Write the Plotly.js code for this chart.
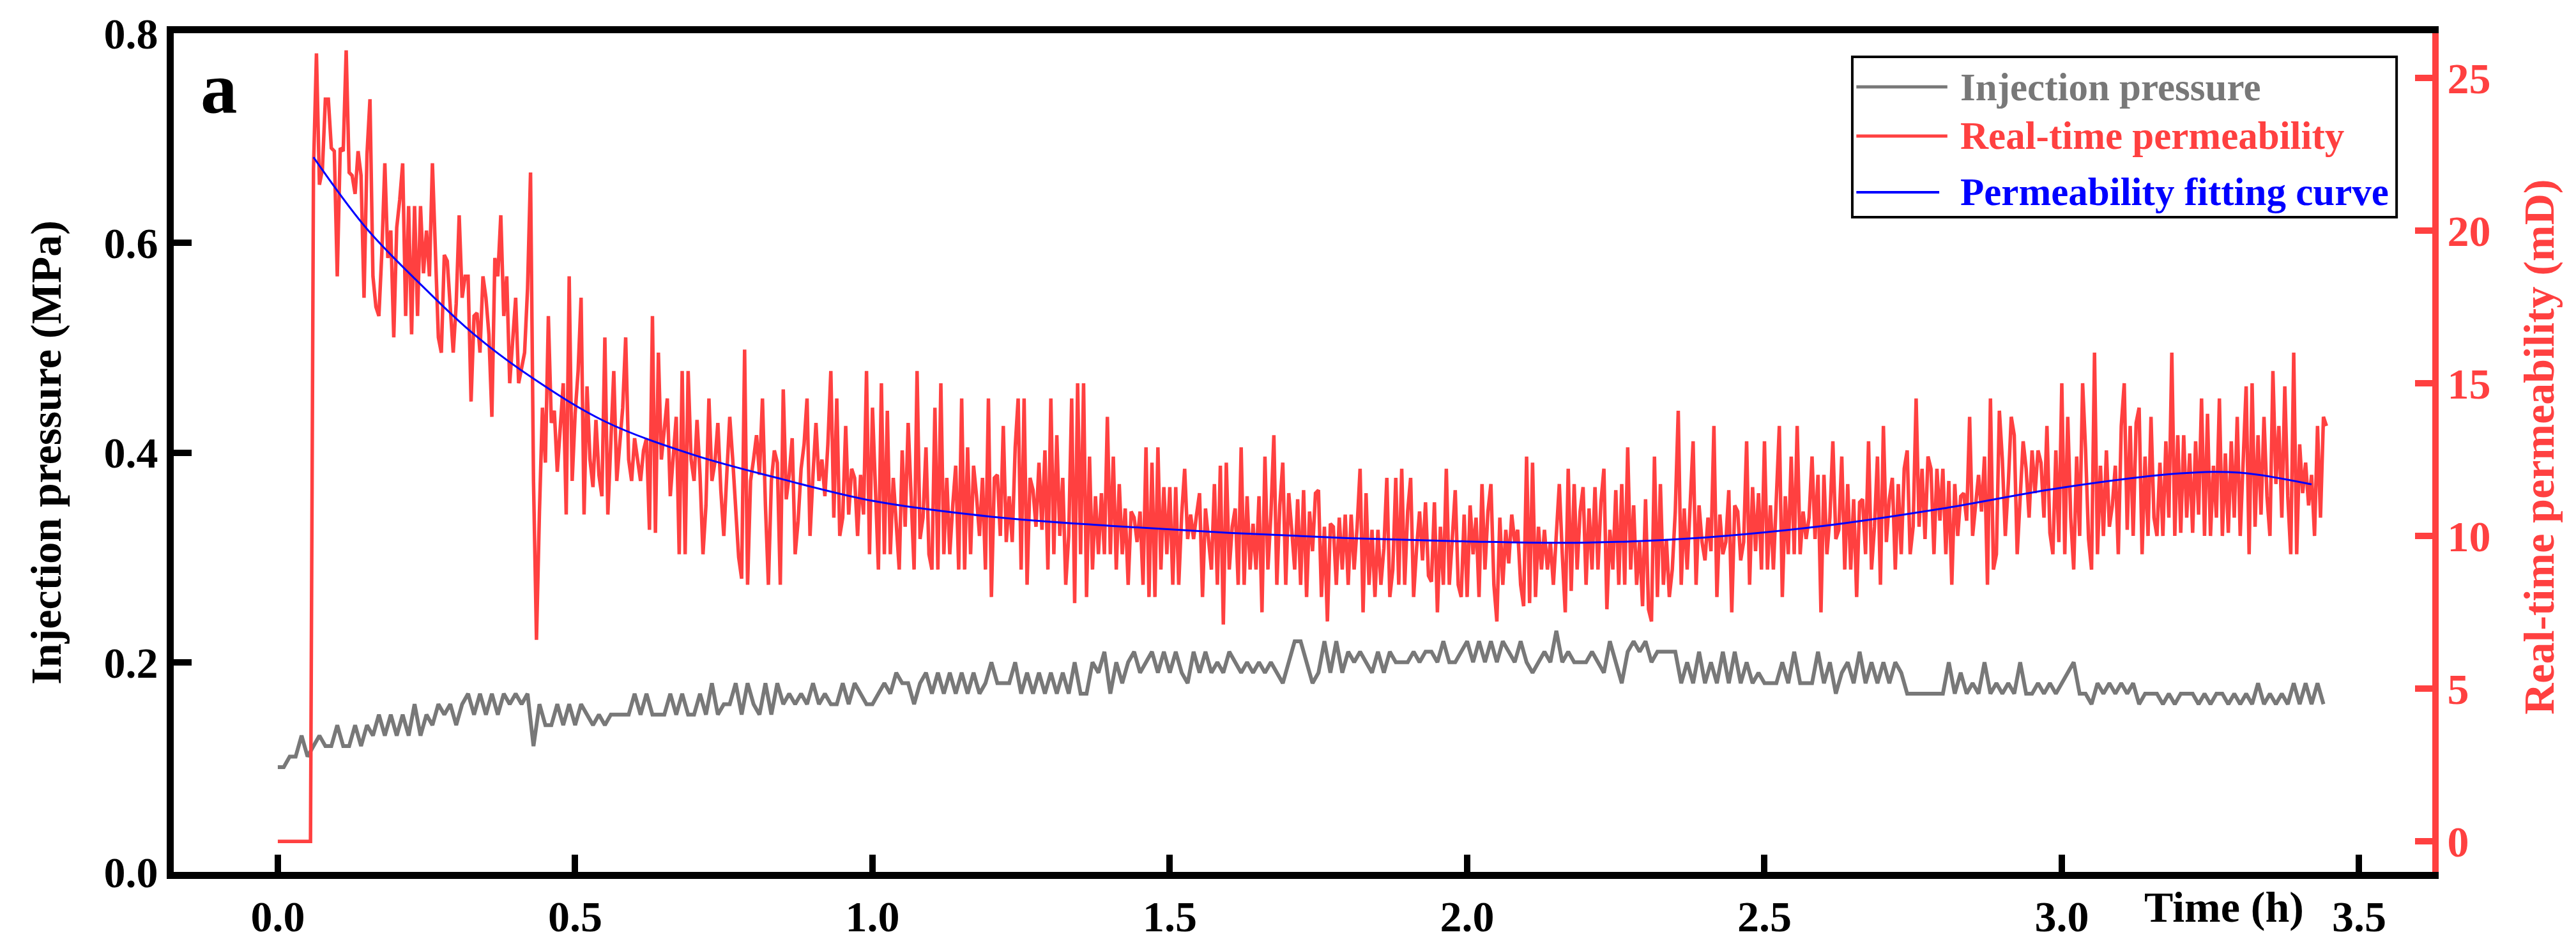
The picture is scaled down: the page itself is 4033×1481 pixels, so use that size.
<!DOCTYPE html>
<html>
<head>
<meta charset="utf-8">
<script src="https://cdn.plot.ly/plotly-3.0.1.min.js"></script>
<style>
  body { margin: 0; background: #fff; }
  #graph { width: 4033px; height: 1481px; }
</style>
</head>
<body>
<div id="graph"></div>
<script>
// time step of the logger (h)
var permStep = 0.005;
var pressStep = 0.01;

// real-time permeability (mD), sampled every 0.005 h from t = 0
var permLead = [0, 0, 0, 0, 0, 0, 0, 0, 0, 0, 0, 0];
var permA = [
    22.0, 25.8, 21.5, 22.0, 24.3, 24.3, 22.7, 22.6, 18.5, 22.7,
    22.6, 25.9, 21.9, 21.8, 21.2, 22.6, 21.8, 17.8, 22.5, 24.3,
    18.5, 17.5, 17.2, 19.3, 22.2, 19.1, 20.0, 16.5, 20.1, 21.0,
    22.2, 17.2, 20.8, 16.6, 20.8, 17.2, 20.8, 18.6, 20.0, 18.5,
    22.2, 19.2, 16.5, 16.0, 19.2, 19.0, 17.6, 16.0, 17.6, 20.5,
    17.8, 18.5, 18.5, 14.4, 17.2, 17.3, 16.0, 18.5, 17.8, 16.6,
    13.9, 19.1, 18.5, 20.5, 17.2, 18.5, 15.0, 16.5, 17.8, 15.0,
    15.5, 16.0, 18.1, 21.9, 11.8, 6.6, 10.8, 14.2, 12.4, 17.2,
    13.7, 14.1, 12.1, 13.5, 15.0, 10.7, 18.5, 11.8, 14.0, 15.4,
    17.8, 10.7, 14.9, 12.5, 11.6, 13.8, 12.0, 11.3, 16.5, 10.7,
    13.0, 15.4, 11.8, 13.0, 14.2, 16.5, 12.5, 11.8, 13.2, 12.5,
    11.8, 12.8, 13.2, 10.2, 17.2, 10.1, 16.0, 12.5, 13.5, 14.5,
    11.3, 12.6, 13.9, 9.4, 15.4, 9.4, 15.4, 12.5, 11.8, 13.8,
    12.0, 9.4, 11.0, 14.5, 11.8, 12.4, 13.7, 11.5, 10.0, 12.0,
    13.9, 12.5, 11.0, 9.3, 8.6, 16.1, 8.4, 11.8, 12.5, 13.3,
    12.0, 14.5, 11.0, 8.4, 11.8, 12.8, 12.4, 8.4, 14.8, 11.2,
    12.0, 13.2, 9.4, 10.5, 12.2, 13.0, 14.5, 10.0, 12.0, 13.7,
    11.8, 12.5, 11.3, 13.0
];
var permB = [
    15.4, 10.6, 14.5, 10.0, 10.6, 13.6, 10.7, 12.2, 11.9, 10.0,
    12.0, 10.7, 15.4, 9.4, 14.2, 11.6, 8.9, 15.0, 9.4, 14.1,
    9.4, 11.9, 10.3, 8.9, 12.8, 10.3, 13.7, 11.5, 8.9, 15.4,
    9.9, 10.6, 12.9, 9.4, 8.9, 14.2, 8.9, 15.0, 9.4, 11.9,
    9.4, 11.0, 12.3, 8.9, 14.5, 8.9, 12.9, 9.4, 12.3, 11.3,
    10.0, 11.9, 8.9, 14.5, 8.0, 11.9, 12.0, 10.0, 13.6, 9.8,
    11.3, 9.8, 12.9, 14.5, 8.9, 14.5, 8.4, 11.9, 11.5, 10.3,
    12.4, 10.2, 12.8, 8.9, 14.5, 9.4, 13.3, 10.0, 11.9, 8.4,
    10.0, 14.5, 7.8, 15.0, 9.4, 15.0, 8.0, 12.6, 8.9, 11.3,
    9.4, 11.4, 9.4, 13.9, 9.4, 12.6, 8.9, 11.7, 9.4, 10.9,
    8.4, 10.8, 10.6, 9.8, 10.8, 8.4, 12.9, 8.0, 12.4, 8.0,
    12.9, 8.9, 11.6, 9.4, 11.6, 8.4, 11.6, 8.4, 10.7, 12.2,
    9.9, 10.7, 9.9, 10.7, 11.4, 8.0, 10.9, 9.9, 8.9, 11.7,
    8.4, 12.3, 7.1, 12.4, 8.9, 10.3, 10.9, 8.4, 12.9, 8.4,
    11.3, 8.9, 10.4, 8.9, 11.3, 7.5, 12.6, 8.9, 10.7, 13.3,
    8.4, 11.0, 12.4, 8.4, 11.4, 10.2, 8.9, 11.2, 8.4, 11.5,
    8.0, 10.8, 9.5, 11.4, 11.5, 8.0, 10.3, 7.2, 10.4, 10.3,
    8.4, 10.6, 8.9, 10.7, 8.4, 10.7, 8.9, 10.3, 12.2, 7.5,
    11.4, 8.4, 10.2, 8.0, 10.2, 8.4, 9.6, 11.9, 8.0, 8.9,
    11.9, 8.4, 12.2, 8.4
];
var permC = [
    10.8, 11.9, 8.0, 9.6, 10.8, 9.2, 11.1, 8.7, 8.5, 11.1,
    7.5, 10.3, 8.4, 12.2, 8.4, 9.9, 11.5, 8.4, 8.0, 10.7,
    8.0, 11.0, 9.4, 10.6, 8.0, 11.7, 8.9, 10.8, 11.7, 8.4,
    7.2, 10.6, 8.4, 10.2, 9.1, 10.7, 9.8, 10.2, 8.4, 7.7,
    12.6, 7.8, 12.4, 8.0, 10.3, 8.9, 10.2, 8.9, 9.8, 8.4,
    10.1, 11.7, 9.4, 7.5, 12.2, 8.2, 11.7, 8.9, 10.8, 11.6,
    8.4, 10.9, 8.9, 11.6, 8.9, 11.1, 12.2, 7.6, 10.2, 8.9,
    11.5, 8.4, 11.7, 8.4, 12.9, 8.9, 11.0, 8.4, 9.8, 7.7,
    11.2, 7.6, 7.2, 12.6, 8.0, 11.7, 8.4, 9.9, 8.0, 8.9,
    10.8, 14.1, 8.4, 10.9, 8.9, 10.9, 13.1, 8.4, 11.0, 9.8,
    9.2, 10.6, 9.5, 13.6, 8.0, 10.7, 9.4, 9.8, 11.5, 7.5,
    11.0, 10.8, 9.2, 9.8, 13.1, 8.4, 11.6, 9.5, 11.4, 8.9,
    13.1, 8.9, 11.0, 8.9, 11.2, 13.6, 8.0, 11.3, 9.4, 12.6,
    9.4, 13.6, 9.4, 10.8, 9.9, 10.6, 12.6, 9.9, 12.0, 7.5,
    12.0, 9.4, 10.6, 13.1, 9.9, 10.2, 12.6, 8.9, 11.7, 8.9,
    11.2, 8.0, 11.1, 11.2, 9.4, 13.1, 8.9, 10.3, 12.6, 8.4,
    13.6, 9.8, 11.2, 11.9, 8.9, 11.7, 9.4, 12.2, 12.8, 9.4,
    10.3, 14.5, 10.3, 12.2, 9.9, 12.6, 12.2, 9.4, 12.2, 10.5,
    12.2, 9.4, 11.8
];
var permD = [
    8.4, 11.7, 10.0, 11.3, 11.4, 10.5, 13.9, 10.0, 11.0, 12.0,
    10.8, 12.6, 8.4, 14.5, 8.9, 9.4, 14.1, 12.5, 10.0, 11.7,
    13.9, 13.3, 9.4, 11.2, 13.1, 12.2, 10.6, 12.8, 11.4, 12.8,
    12.4, 10.6, 13.6, 10.1, 9.4, 12.8, 9.8, 15.0, 9.4, 13.9,
    10.6, 8.9, 12.6, 10.0, 15.0, 12.8, 9.9, 8.9, 16.0, 9.4,
    12.3, 10.0, 12.8, 10.3, 11.0, 12.3, 9.4, 13.6, 15.0, 10.2,
    13.6, 10.0, 13.7, 14.2, 9.4, 12.6, 10.0, 13.9, 10.6, 10.0,
    12.4, 10.0, 13.1, 10.6, 16.0, 10.0, 13.3, 10.1, 13.3, 10.6,
    12.7, 10.1, 13.1, 10.7, 14.5, 10.0, 14.0, 10.0, 12.3, 10.6,
    14.5, 10.0, 12.7, 10.1, 13.1, 10.6, 13.9, 10.0, 12.7, 14.9,
    9.4, 15.0, 10.3, 13.3, 10.7, 13.9, 11.3, 10.0, 15.4, 11.7,
    13.6, 10.6, 14.9, 11.3, 9.4, 16.0, 9.4, 13.0, 11.4, 12.4,
    11.0, 12.0, 10.0, 13.6, 10.6, 13.9, 13.6
];

// injection pressure (MPa), sampled every 0.01 h from t = 0
var pressA = [
    0.10, 0.10, 0.11, 0.11, 0.13, 0.11, 0.12, 0.13, 0.12, 0.12,
    0.14, 0.12, 0.12, 0.14, 0.12, 0.14, 0.13, 0.15, 0.13, 0.15,
    0.13, 0.15, 0.13, 0.16, 0.13, 0.15, 0.14, 0.16, 0.15, 0.16,
    0.14, 0.16, 0.17, 0.15, 0.17, 0.15, 0.17, 0.15, 0.17, 0.16,
    0.17, 0.16, 0.17, 0.12, 0.16, 0.14, 0.14, 0.16, 0.14, 0.16,
    0.14, 0.16, 0.15, 0.14, 0.15, 0.14, 0.15, 0.15, 0.15, 0.15,
    0.17, 0.15, 0.17, 0.15, 0.15, 0.15, 0.17, 0.15, 0.17, 0.15,
    0.15, 0.17, 0.15, 0.18, 0.15, 0.16, 0.16, 0.18, 0.15, 0.18,
    0.16, 0.15, 0.18, 0.15, 0.18, 0.16, 0.17, 0.16, 0.17, 0.16,
    0.18, 0.16, 0.17, 0.16, 0.16, 0.18, 0.16, 0.18, 0.17, 0.16,
    0.16, 0.17, 0.18, 0.17, 0.19, 0.18, 0.18, 0.16, 0.18, 0.19,
    0.17, 0.19, 0.17, 0.19, 0.17, 0.19, 0.17, 0.19, 0.17, 0.18,
    0.20, 0.18, 0.18, 0.18, 0.20, 0.17, 0.19, 0.17, 0.19, 0.17,
    0.19, 0.17, 0.19, 0.17, 0.20, 0.17, 0.17, 0.20, 0.19, 0.21,
    0.17, 0.20, 0.18, 0.20, 0.21, 0.19, 0.20, 0.21, 0.19, 0.21,
    0.19, 0.21, 0.19, 0.18, 0.21, 0.19, 0.21, 0.19, 0.20, 0.19,
    0.21, 0.20, 0.19, 0.20, 0.19, 0.20, 0.19, 0.20, 0.19, 0.18
];
var pressB = [
    0.20, 0.22, 0.22, 0.20, 0.18, 0.19, 0.22, 0.19, 0.22, 0.19,
    0.21, 0.20, 0.21, 0.20, 0.19, 0.21, 0.19, 0.21, 0.20, 0.20,
    0.20, 0.21, 0.20, 0.21, 0.21, 0.20, 0.22, 0.20, 0.20, 0.21,
    0.22, 0.20, 0.22, 0.20, 0.22, 0.20, 0.22, 0.21, 0.20, 0.22,
    0.20, 0.19, 0.20, 0.21, 0.20, 0.23, 0.20, 0.21, 0.20, 0.20,
    0.20, 0.21, 0.20, 0.19, 0.22, 0.20, 0.18, 0.21, 0.22, 0.21,
    0.22, 0.20, 0.21, 0.21, 0.21, 0.21, 0.18, 0.20, 0.18, 0.21,
    0.18, 0.20, 0.18, 0.21, 0.18, 0.21, 0.18, 0.20, 0.18, 0.19,
    0.18, 0.18, 0.18, 0.20, 0.18, 0.21, 0.18, 0.18, 0.18, 0.21,
    0.18, 0.20, 0.17, 0.19, 0.20, 0.18, 0.21, 0.18, 0.20, 0.18,
    0.20, 0.18, 0.20, 0.19, 0.17, 0.17, 0.17, 0.17, 0.17, 0.17,
    0.17, 0.20, 0.17, 0.19, 0.17, 0.18, 0.17, 0.20, 0.17, 0.18,
    0.17, 0.18, 0.17, 0.20, 0.17, 0.17, 0.18, 0.17, 0.18, 0.17,
    0.18, 0.19, 0.20, 0.17, 0.17, 0.16, 0.18, 0.17, 0.18, 0.17,
    0.18, 0.17, 0.18, 0.16, 0.17, 0.17, 0.17, 0.16, 0.17, 0.16,
    0.17, 0.17, 0.17, 0.16, 0.17, 0.16, 0.17, 0.17, 0.16, 0.17,
    0.16, 0.17, 0.16, 0.18, 0.16, 0.17, 0.16, 0.17, 0.16, 0.18,
    0.16, 0.18, 0.16, 0.18, 0.16
];

// permeability fitting curve (mD)
var fitT = [0.06, 0.15, 0.25, 0.33, 0.43, 0.55, 0.70, 0.85, 1.00, 1.20,
            1.40, 1.60, 1.80, 2.00, 2.20, 2.40, 2.60, 2.80, 3.00, 3.20,
            3.30, 3.42];
var fitK = [22.4, 20.05, 18.05, 16.6, 15.15, 13.75, 12.65, 11.85, 11.15, 10.63,
            10.33, 10.1, 9.93, 9.82, 9.78, 9.95, 10.33, 10.9, 11.58, 12.05,
            12.07, 11.69];

var xTicks = [0, 0.5, 1, 1.5, 2, 2.5, 3, 3.5];
var yTicks = [0, 0.2, 0.4, 0.6, 0.8];
var y2Ticks = [0, 5, 10, 15, 20, 25];

var legendNames = ['Injection pressure', 'Real-time permeability', 'Permeability fitting curve'];

var GRAY = 'rgb(120,120,120)';
var RED = 'rgb(255,64,64)';
var BLUE = 'rgb(0,0,255)';
var FONT = 'Liberation Serif, Times New Roman, serif';

function graphplot() {
    var allLines = [];

    allLines.push({
        y: pressA.concat(pressB),
        x0: 0,
        dx: pressStep,
        mode: 'lines',
        line: {color: GRAY, width: 6},
        name: legendNames[0],
        yaxis: 'y',
        hoverinfo: 'skip'
    });

    allLines.push({
        y: permLead.concat(permA, permB, permC, permD),
        x0: 0,
        dx: permStep,
        mode: 'lines',
        line: {color: RED, width: 5.5},
        name: legendNames[1],
        yaxis: 'y2',
        hoverinfo: 'skip'
    });

    allLines.push({
        x: fitT,
        y: fitK,
        mode: 'lines',
        line: {color: BLUE, width: 3, shape: 'spline', smoothing: 1},
        name: legendNames[2],
        yaxis: 'y2',
        hoverinfo: 'skip'
    });

    // hand made legend, the swatches are long
    var lx0 = 0.7432, lx1 = 0.9842, ly0 = 0.7807, ly1 = 0.9718;
    var rowY = [0.9360, 0.8774, 0.8104];
    var rowColor = [GRAY, RED, BLUE];
    var rowEnd = [0.7853, 0.7853, 0.7817];

    var shapes = [{
        type: 'rect', xref: 'paper', yref: 'paper',
        x0: lx0, x1: lx1, y0: ly0, y1: ly1,
        line: {color: 'black', width: 4}, fillcolor: 'white', layer: 'above'
    }];
    var notes = [];
    for (i = 0; i < 3; i++) {
        shapes.push({
            type: 'line', xref: 'paper', yref: 'paper',
            x0: 0.7450, x1: rowEnd[i], y0: rowY[i], y1: rowY[i],
            line: {color: rowColor[i], width: i == 2 ? 4 : 5}, layer: 'above'
        });
        notes.push({
            xref: 'paper', yref: 'paper', x: 0.7904, y: rowY[i],
            xanchor: 'left', yanchor: 'middle', showarrow: false,
            text: legendNames[i],
            font: {family: FONT, size: 61, color: rowColor[i], weight: 'bold'}
        });
    }

    notes.push({
        xref: 'paper', yref: 'paper', x: 0.0201, y: 0.935,
        xanchor: 'center', yanchor: 'middle', showarrow: false,
        text: 'a', font: {family: FONT, size: 115, color: 'black', weight: 'bold'}
    });
    notes.push({
        xref: 'paper', yref: 'paper', x: 0.9079, y: -0.0418,
        xanchor: 'center', yanchor: 'middle', showarrow: false,
        text: 'Time (h)', font: {family: FONT, size: 68, color: 'black', weight: 'bold'}
    });
    notes.push({
        xref: 'paper', yref: 'paper', x: -0.0568, y: 0.5,
        xanchor: 'center', yanchor: 'middle', showarrow: false, textangle: -90,
        text: 'Injection pressure (MPa)', font: {family: FONT, size: 68, color: 'black', weight: 'bold'}
    });
    notes.push({
        xref: 'paper', yref: 'paper', x: 1.0472, y: 0.5065,
        xanchor: 'center', yanchor: 'middle', showarrow: false, textangle: -90,
        text: 'Real-time permeability (mD)', font: {family: FONT, size: 68, color: RED, weight: 'bold'}
    });

    var tickFont = {family: FONT, size: 68, color: 'black', weight: 'bold'};

    var frame = {
        width: 4033,
        height: 1481,
        margin: {l: 272, r: 225, t: 52, b: 116},
        paper_bgcolor: 'white',
        plot_bgcolor: 'white',
        showlegend: false,
        xaxis: {
            range: [-0.175, 3.623],
            tickvals: xTicks,
            tickformat: '.1f',
            ticks: 'inside', ticklen: 27, tickwidth: 10, tickcolor: 'black',
            showline: true, linewidth: 11, linecolor: 'black', mirror: true,
            showgrid: false, zeroline: false,
            tickfont: tickFont
        },
        yaxis: {
            range: [0, 0.8],
            tickvals: yTicks,
            tickformat: '.1f',
            ticks: 'inside', ticklen: 28, tickwidth: 10, tickcolor: 'black',
            showline: true, linewidth: 11, linecolor: 'black',
            showgrid: false, zeroline: false,
            tickfont: tickFont
        },
        yaxis2: {
            overlaying: 'y',
            side: 'right',
            range: [-1.0, 26.46],
            tickvals: y2Ticks,
            ticks: 'inside', ticklen: 27, tickwidth: 10, tickcolor: RED,
            showline: true, linewidth: 10, linecolor: RED,
            showgrid: false, zeroline: false,
            tickfont: {family: FONT, size: 68, color: RED, weight: 'bold'}
        },
        shapes: shapes,
        annotations: notes
    };

    Plotly.newPlot('graph', allLines, frame, {displayModeBar: false, staticPlot: true});
}

graphplot();
</script>
</body>
</html>
